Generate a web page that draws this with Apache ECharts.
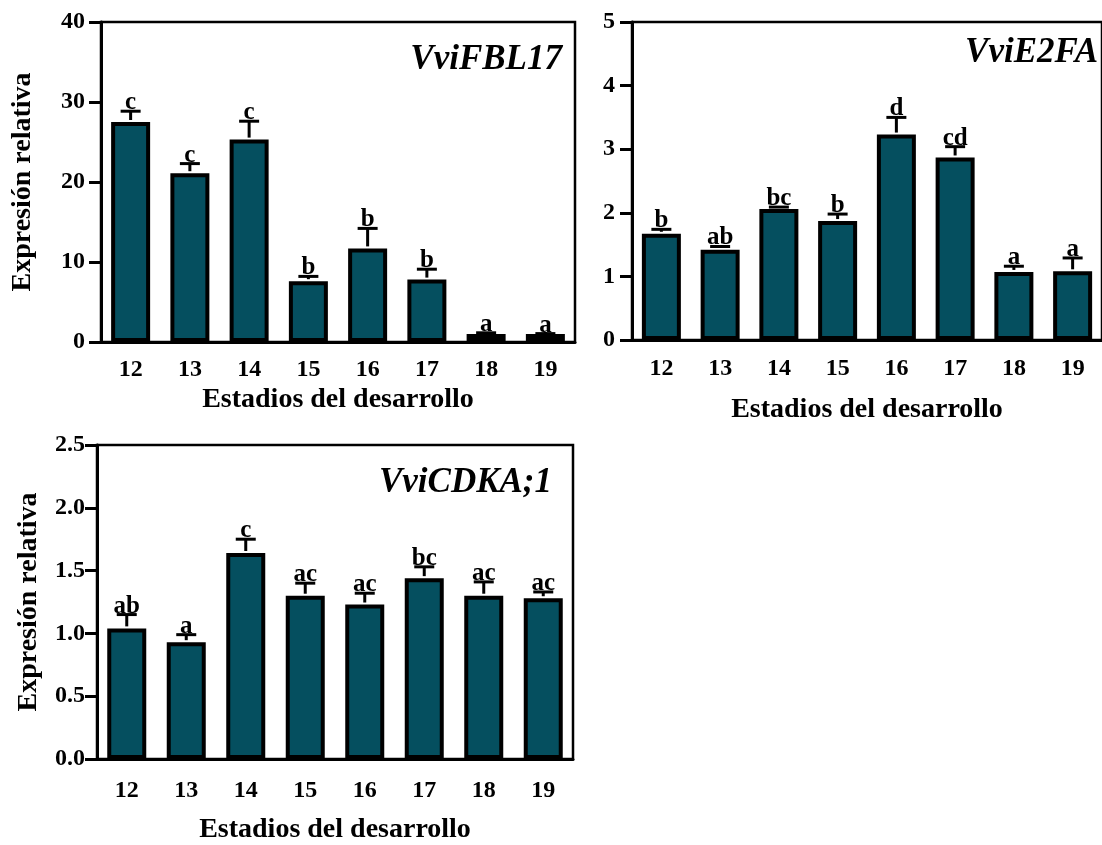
<!DOCTYPE html>
<html>
<head>
<meta charset="utf-8">
<script src="https://cdn.jsdelivr.net/npm/echarts@6/dist/echarts.min.js"></script>
<style>html,body{margin:0;padding:0;background:#fff;}#c{width:1102px;height:845px;}</style>
</head>
<body>
<div id="c"></div>
<script>
// ---- data ----
var stages = ['12', '13', '14', '15', '16', '17', '18', '19'];

var fbl17Mean = [27.5, 21.1, 25.3, 7.6, 11.7, 7.8, 1.0, 1.0];
var fbl17Sem  = [1.35, 1.2, 2.3, 0.6, 2.5, 1.3, 0.15, 0.05];
var fbl17Letters = ['c', 'c', 'c', 'b', 'b', 'b', 'a', 'a'];

var e2faMean = [1.67, 1.42, 2.06, 1.87, 3.23, 2.87, 1.07, 1.08];
var e2faSem  = [0.07, 0.05, 0.03, 0.11, 0.27, 0.17, 0.09, 0.21];
var e2faLetters = ['b', 'ab', 'bc', 'b', 'd', 'cd', 'a', 'a'];

var cdkaMean = [1.04, 0.93, 1.64, 1.30, 1.23, 1.44, 1.30, 1.28];
var cdkaSem  = [0.11, 0.06, 0.11, 0.10, 0.09, 0.09, 0.11, 0.05];
var cdkaLetters = ['ab', 'a', 'c', 'ac', 'ac', 'bc', 'ac', 'ac'];

var yTicks1 = {min: 0, max: 40, interval: 10};
var yTicks2 = {min: 0, max: 5, interval: 1};
var yTicks3 = {min: 0, max: 2.5, interval: 0.5};

var xName = 'Estadios del desarrollo';
var yName = 'Expresión relativa';

// ---- chart ----
var FONT = '"Liberation Serif", "Times New Roman", serif';
var BAR = '#054F5F';

function xAxis(gi, margin, gap) {
  return {
    type: 'category', gridIndex: gi, data: stages,
    boundaryGap: true,
    axisLine: {lineStyle: {color: '#000', width: 3}},
    axisTick: {alignWithLabel: true, length: 12, lineStyle: {color: '#000', width: 3}},
    axisLabel: {color: '#000', fontFamily: FONT, fontWeight: 'bold', fontSize: 24, margin: margin},
    name: xName, nameLocation: 'middle', nameGap: gap,
    nameTextStyle: {color: '#000', fontFamily: FONT, fontWeight: 'bold', fontSize: 28}
  };
}
function yAxis(gi, t, name, gap, margin, fmt) {
  var a = {
    type: 'value', gridIndex: gi, min: t.min, max: t.max, interval: t.interval,
    splitLine: {show: false},
    axisLine: {show: true, lineStyle: {color: '#000', width: 3}},
    axisTick: {show: true, length: 12, lineStyle: {color: '#000', width: 3}},
    axisLabel: {color: '#000', fontFamily: FONT, fontWeight: 'bold', fontSize: 24, margin: margin,
      formatter: fmt}
  };
  if (name) {
    a.name = name; a.nameLocation = 'middle'; a.nameGap = gap;
    a.nameTextStyle = {color: '#000', fontFamily: FONT, fontWeight: 'bold', fontSize: 28};
  }
  return a;
}
function barSeries(gi, mean) {
  return {
    type: 'bar', xAxisIndex: gi, yAxisIndex: gi, data: mean, barWidth: 39,
    itemStyle: {color: BAR, borderColor: '#000', borderWidth: 4},
    z: 2, silent: true, animation: false
  };
}
function errSeries(gi, mean, sem, letters) {
  var data = mean.map(function (m, i) { return [i, m, m + sem[i]]; });
  return {
    type: 'custom', xAxisIndex: gi, yAxisIndex: gi, data: data, z: 3, silent: true, animation: false,
    clip: false,
    renderItem: function (params, api) {
      var i = api.value(0);
      var p0 = api.coord([i, api.value(1)]);
      var p1 = api.coord([i, api.value(2)]);
      var cap = 10;
      return {
        type: 'group',
        children: [
          {type: 'line', shape: {x1: p0[0], y1: p0[1] - 2, x2: p1[0], y2: p1[1]},
            style: {stroke: '#000', lineWidth: 3}},
          {type: 'line', shape: {x1: p1[0] - cap, y1: p1[1], x2: p1[0] + cap, y2: p1[1]},
            style: {stroke: '#000', lineWidth: 3}},
          {type: 'text', x: p1[0], y: p1[1] + 4,
            style: {text: letters[i], font: 'bold 25px ' + FONT, fill: '#000',
              align: 'center', verticalAlign: 'bottom'}}
        ]
      };
    }
  };
}

var gridStyle = {show: true, borderColor: '#000', borderWidth: 2.5, backgroundColor: 'transparent'};
var titleStyle = {fontFamily: FONT, fontStyle: 'italic', fontWeight: 'bold', fontSize: 35, color: '#000'};

var option = {
  backgroundColor: '#fff',
  animation: false,
  title: [
    {text: 'VviFBL17', right: 540, top: 42, padding: 0, textStyle: titleStyle},
    {text: 'VviE2FA', right: 4, top: 35, padding: 0, textStyle: titleStyle},
    {text: 'VviCDKA;1', right: 550, top: 465, padding: 0, textStyle: titleStyle}
  ],
  grid: [
    Object.assign({left: 101, top: 22, width: 474, height: 320}, gridStyle),
    Object.assign({left: 632, top: 22, width: 480, height: 318}, gridStyle),
    Object.assign({left: 97, top: 445, width: 476, height: 317}, gridStyle)
  ],
  xAxis: [xAxis(0, 16, 44), xAxis(1, 17, 56), xAxis(2, 20, 57)],
  yAxis: [
    yAxis(0, yTicks1, yName, 64, 16, function (v) { return String(v); }),
    yAxis(1, yTicks2, null, 0, 17, function (v) { return String(v); }),
    yAxis(2, yTicks3, yName, 54, 12, function (v) { return v.toFixed(1); })
  ],
  series: [
    barSeries(0, fbl17Mean), errSeries(0, fbl17Mean, fbl17Sem, fbl17Letters),
    barSeries(1, e2faMean), errSeries(1, e2faMean, e2faSem, e2faLetters),
    barSeries(2, cdkaMean), errSeries(2, cdkaMean, cdkaSem, cdkaLetters)
  ]
};

var chart = echarts.init(document.getElementById('c'), null, {renderer: 'canvas'});
chart.setOption(option);
</script>
</body>
</html>
